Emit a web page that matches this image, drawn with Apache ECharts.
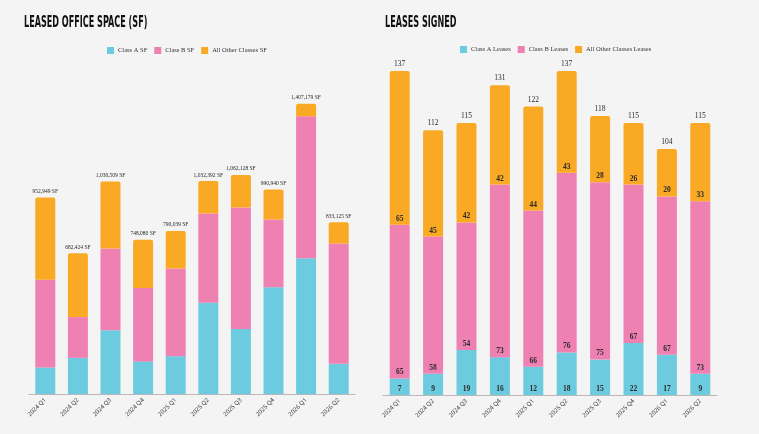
<!DOCTYPE html>
<html>
<head>
<meta charset="utf-8">
<script src="https://cdn.jsdelivr.net/npm/echarts@6/dist/echarts.min.js"></script>
<style>
  html, body { margin: 0; padding: 0; background: #f4f4f4; }
  #chart { width: 759px; height: 434px; }
</style>
</head>
<body>
<div id="chart"></div>
<script>
var quarters = ['2024 Q1', '2024 Q2', '2024 Q3', '2024 Q4', '2025 Q1', '2025 Q2', '2025 Q3', '2025 Q4', '2026 Q1', '2026 Q2'];

// leased office space, square feet
var classASF = [128800, 175200, 309000, 158000, 183500, 442500, 315000, 518000, 658000, 146500];
var classBSF = [424600, 197800, 397000, 355500, 424600, 432500, 589000, 328000, 689000, 583000];
var otherSF = [399549, 309424, 324509, 234580, 181939, 157392, 158128, 144940, 60179, 103625];

// leases signed, count
var classALeases = [7, 9, 19, 16, 12, 18, 15, 22, 17, 9];
var classBLeases = [65, 58, 54, 73, 66, 76, 75, 67, 67, 73];
var otherLeases = [65, 45, 42, 42, 44, 43, 28, 26, 20, 33];

var colA = '#6dcbe0', colB = '#ef80b2', colO = '#f9a923';
var serif = "'Liberation Serif', serif";
var narrow = "'DejaVu Sans Condensed', sans-serif";

function sum3(a, b, c) {
    return a.map(function (v, i) { return v + b[i] + c[i]; });
}
var totalSF = sum3(classASF, classBSF, otherSF);
var totalLeases = sum3(classALeases, classBLeases, otherLeases);

function segLabel() {
    return {
        show: true,
        position: 'insideBottom',
        distance: 2,
        fontFamily: serif,
        fontWeight: 'bold',
        fontSize: 7.5,
        color: '#2a2a2a'
    };
}

function totalLine(name, data, xi, fmt, size) {
    return {
        name: name,
        type: 'line',
        xAxisIndex: xi,
        yAxisIndex: xi,
        data: data,
        symbol: 'circle',
        symbolSize: 0,
        showSymbol: true,
        lineStyle: { opacity: 0 },
        itemStyle: { color: 'transparent' },
        silent: true,
        z: 5,
        labelLayout: { hideOverlap: false },
        label: {
            show: true,
            position: 'top',
            distance: 3,
            fontFamily: serif,
            fontSize: size,
            color: '#2a2a2a',
            formatter: fmt
        }
    };
}

// heavy condensed heading, squeezed horizontally
function heading(text, x) {
    return {
        type: 'text',
        x: x,
        y: 16,
        scaleX: 0.6,
        style: { text: text, fontFamily: narrow, fontWeight: 'bold', fontSize: 15, fill: '#111' }
    };
}

var xAxisBase = {
    type: 'category',
    data: quarters,
    axisLine: { lineStyle: { color: '#b8b8b8', width: 1 } },
    axisTick: { show: false },
    axisLabel: { rotate: 45, fontSize: 6, color: '#333', margin: 5, fontFamily: 'Open Sans' }
};

var legendBase = {
    icon: 'rect',
    itemWidth: 7,
    itemHeight: 7,
    itemGap: 7,
    padding: 0,
    textStyle: { fontFamily: serif, fontSize: 6.5, color: '#333', padding: [0, 0, 0, -1] }
};

var chart = echarts.init(document.getElementById('chart'));
chart.setOption({
    backgroundColor: '#f4f4f4',
    animation: false,
    graphic: [
        heading('LEASED OFFICE SPACE (SF)', 24),
        heading('LEASES SIGNED', 385)
    ],
    legend: [
        Object.assign({ data: ['Class A SF', 'Class B SF', 'All Other Classes SF'], left: 107, top: 47 }, legendBase),
        Object.assign({ data: ['Class A Leases', 'Class B Leases', 'All Other Classes Leases'], left: 460, top: 46 }, legendBase)
    ],
    grid: [
        { left: 29, right: 404, top: 64, bottom: 40 },
        { left: 383, right: 42, top: 64, bottom: 39 }
    ],
    xAxis: [
        Object.assign({ gridIndex: 0 }, xAxisBase),
        Object.assign({ gridIndex: 1 }, xAxisBase)
    ],
    yAxis: [
        { gridIndex: 0, type: 'value', min: 0, max: 1600000, show: false, splitLine: { show: false } },
        { gridIndex: 1, type: 'value', min: 0, max: 140, show: false, splitLine: { show: false } }
    ],
    series: [
        { name: 'Class A SF', type: 'bar', stack: 'sf', xAxisIndex: 0, yAxisIndex: 0, data: classASF, barWidth: 20, itemStyle: { color: colA } },
        { name: 'Class B SF', type: 'bar', stack: 'sf', xAxisIndex: 0, yAxisIndex: 0, data: classBSF, barWidth: 20, itemStyle: { color: colB } },
        { name: 'All Other Classes SF', type: 'bar', stack: 'sf', xAxisIndex: 0, yAxisIndex: 0, data: otherSF, barWidth: 20, itemStyle: { color: colO, borderRadius: [2, 2, 0, 0] } },
        totalLine('Total SF', totalSF, 0, function (p) { return p.value.toLocaleString('en-US') + ' SF'; }, 5.5),

        { name: 'Class A Leases', type: 'bar', stack: 'ls', xAxisIndex: 1, yAxisIndex: 1, data: classALeases, barWidth: 20, itemStyle: { color: colA }, label: segLabel() },
        { name: 'Class B Leases', type: 'bar', stack: 'ls', xAxisIndex: 1, yAxisIndex: 1, data: classBLeases, barWidth: 20, itemStyle: { color: colB }, label: segLabel() },
        { name: 'All Other Classes Leases', type: 'bar', stack: 'ls', xAxisIndex: 1, yAxisIndex: 1, data: otherLeases, barWidth: 20, itemStyle: { color: colO, borderRadius: [2, 2, 0, 0] }, label: segLabel() },
        totalLine('Total Leases', totalLeases, 1, function (p) { return String(p.value); }, 7.5)
    ]
});
</script>
</body>
</html>
